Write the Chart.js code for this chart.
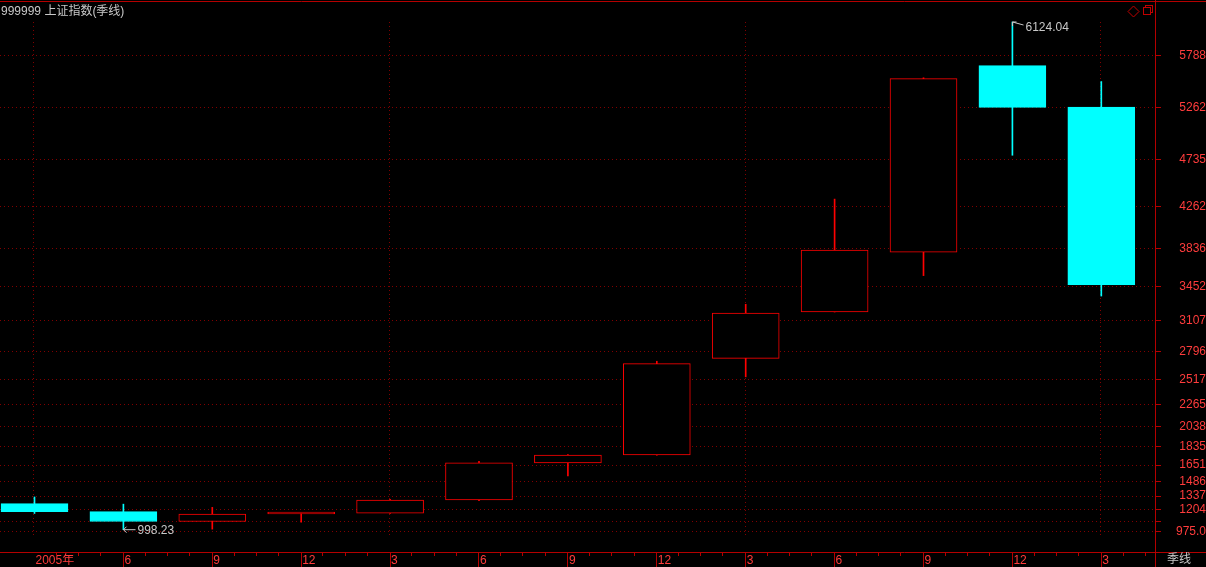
<!DOCTYPE html>
<html>
<head>
<meta charset="utf-8">
<title>999999 上证指数(季线)</title>
<script src="https://cdn.jsdelivr.net/npm/chart.js@4/dist/chart.umd.min.js"></script>
<style>
  html, body { margin: 0; padding: 0; background: #000; }
  #wrap { position: relative; width: 1206px; height: 567px; }
</style>
</head>
<body>
<div id="wrap"><canvas id="kline"></canvas></div>
<script>
// quarterly candles of the Shanghai composite, 2005Q1 .. 2008Q1
const quarters = ['2005Q1', '2005Q2', '2005Q3', '2005Q4', '2006Q1', '2006Q2', '2006Q3',
                  '2006Q4', '2007Q1', '2007Q2', '2007Q3', '2007Q4', '2008Q1'];
const xLabels  = ['2005年', '6', '9', '12', '3', '6', '9', '12', '3', '6', '9', '12', '3'];
const yearStarts = [0, 4, 8, 12];   // dotted separators where a new year begins

const opens  = [1260.78, 1181.24, 1080.94, 1157.00, 1163.88, 1298.30, 1672.21,
                1752.42, 2728.19, 3196.00, 3800.00, 5683.31, 5265.00];
const highs  = [1328.53, 1256.00, 1223.57, 1166.00, 1306.00, 1688.00, 1757.80,
                2698.90, 3274.00, 4335.96, 5561.00, 6124.04, 5522.78];
const lows   = [1162.00, 998.23, 1004.08, 1074.01, 1161.91, 1291.00, 1541.00,
                1750.00, 2541.53, 3196.00, 3563.54, 4778.73, 3357.23];
const closes = [1181.24, 1080.94, 1155.61, 1161.06, 1298.30, 1672.21, 1752.42,
                2675.47, 3183.98, 3820.70, 5552.30, 5261.56, 3472.71];

// right axis ticks (the one at 1084 has no label, it would collide)
const yTicks      = [975, 1084, 1204, 1337, 1486, 1651, 1835, 2038, 2265, 2517,
                     2796, 3107, 3452, 3836, 4262, 4735, 5262, 5788];
const yTickLabels = ['975.0', '', '1204', '1337', '1486', '1651', '1835', '2038', '2265', '2517',
                     '2796', '3107', '3452', '3836', '4262', '4735', '5262', '5788'];

const Y_MIN = 773, Y_MAX = 6326;
const X_MIN = -0.388, X_MAX = 12.604;

const UP = '#ff0000';
const DOWN = '#00ffff';
const AXIS = '#b40000';
const GRID = '#800000';
const TICK_TEXT = '#ff3c3c';
const GREY = '#c8c8c8';
const NUM_FONT = '12px "Liberation Sans", Arial, sans-serif';
const CJK_FONT = '12px "Liberation Sans", "Noto Sans CJK SC", sans-serif';

const isUp = i => closes[i] >= opens[i];

function line(ctx, x1, y1, x2, y2) {
    ctx.beginPath();
    ctx.moveTo(x1, y1);
    ctx.lineTo(x2, y2);
    ctx.stroke();
}

const decor = {
    id: 'decor',
    beforeDraw(chart) {
        const ctx = chart.ctx;
        ctx.save();
        ctx.fillStyle = '#000';
        ctx.fillRect(0, 0, chart.width, chart.height);
        ctx.restore();
    },
    beforeDatasetsDraw(chart) {
        const {ctx, chartArea: a, scales: {x}} = chart;
        ctx.save();
        ctx.strokeStyle = GRID;
        ctx.lineWidth = 1;
        ctx.setLineDash([1, 3]);
        yearStarts.forEach(i => {
            const px = Math.round(x.getPixelForValue(i)) - 0.5;
            line(ctx, px, a.top + 20, px, a.bottom - 14);
        });
        ctx.restore();
    },
    afterDraw(chart) {
        const {ctx, chartArea: a, scales: {x, y}, width, height} = chart;
        ctx.save();
        ctx.strokeStyle = AXIS;
        ctx.lineWidth = 1;
        // frame: top rule, right axis, bottom axis
        line(ctx, 0, 1.5, width, 1.5);
        line(ctx, a.right + 0.5, 0, a.right + 0.5, height);
        line(ctx, 0, a.bottom + 0.5, width, a.bottom + 0.5);
        // minor ticks under the time axis
        for (let v = 0; v <= X_MAX; v += 0.25) {
            if (v % 1 === 0) continue;
            const px = Math.round(x.getPixelForValue(v)) - 0.5;
            line(ctx, px, a.bottom, px, a.bottom + 4);
        }
        // small window icons, top right
        ctx.strokeStyle = '#c00000';
        ctx.beginPath();
        ctx.moveTo(1133.5, 6); ctx.lineTo(1139, 11.5); ctx.lineTo(1133.5, 17); ctx.lineTo(1128, 11.5);
        ctx.closePath();
        ctx.stroke();
        ctx.strokeRect(1145.5, 5.5, 7, 7);
        ctx.fillStyle = '#000';
        ctx.fillRect(1143.5, 7.5, 7, 7);
        ctx.strokeRect(1143.5, 7.5, 7, 7);

        // title and period name
        ctx.fillStyle = GREY;
        ctx.font = CJK_FONT;
        ctx.textBaseline = 'middle';
        ctx.textAlign = 'left';
        ctx.fillText('999999 上证指数(季线)', 1, 12);
        ctx.fillText('季线', a.right + 12, a.bottom + 8);

        // highest high / lowest low markers
        let hi = 0, lo = 0;
        highs.forEach((v, i) => { if (v > highs[hi]) hi = i; });
        lows.forEach((v, i) => { if (v < lows[lo]) lo = i; });
        ctx.strokeStyle = GREY;
        ctx.font = NUM_FONT;

        let hx = Math.round(x.getPixelForValue(hi)) + 0.5, hy = y.getPixelForValue(highs[hi]);
        line(ctx, hx, hy, hx + 11, hy + 3);
        line(ctx, hx, hy, hx + 4, hy);
        line(ctx, hx, hy, hx, hy + 4);
        ctx.fillText(highs[hi].toFixed(2), hx + 13, hy + 6);

        let lx = Math.round(x.getPixelForValue(lo)) + 0.5, ly = y.getPixelForValue(lows[lo]);
        line(ctx, lx, ly, lx + 12, ly);
        line(ctx, lx, ly, lx + 3, ly - 3);
        line(ctx, lx, ly, lx + 3, ly + 3);
        ctx.fillText(lows[lo].toFixed(2), lx + 14, ly + 1);
        ctx.restore();
    }
};

new Chart(document.getElementById('kline'), {
    type: 'bar',
    data: {
        datasets: [{
            label: 'wick',
            data: quarters.map((q, i) => ({x: i, y: [lows[i], highs[i]]})),
            backgroundColor: quarters.map((q, i) => isUp(i) ? UP : DOWN),
            borderWidth: 0,
            barThickness: 1,
            grouped: false,
            order: 2
        }, {
            label: 'body',
            data: quarters.map((q, i) => ({x: i, y: [opens[i], closes[i]]})),
            backgroundColor: quarters.map((q, i) => isUp(i) ? '#000000' : DOWN),
            borderColor: quarters.map((q, i) => isUp(i) ? UP : DOWN),
            borderWidth: 1,
            borderSkipped: false,
            minBarLength: 2,
            barThickness: 67,
            grouped: false,
            order: 1
        }]
    },
    options: {
        responsive: true,
        maintainAspectRatio: false,
        animation: false,
        layout: { padding: { top: 2, left: 0, right: 0, bottom: 0 } },
        plugins: {
            legend: { display: false },
            tooltip: { enabled: false }
        },
        scales: {
            x: {
                type: 'linear',
                min: X_MIN,
                max: X_MAX,
                offset: false,
                afterBuildTicks: s => { s.ticks = quarters.map((q, i) => ({value: i})); },
                afterFit: s => {
                    s.height = 15;
                    s.paddingLeft = 0; s.paddingRight = 0;
                },
                grid: {
                    offset: false,
                    drawOnChartArea: false,
                    tickLength: 15,
                    tickColor: c => c.index === 0 ? 'rgba(0,0,0,0)' : AXIS
                },
                border: { display: false },
                ticks: {
                    autoSkip: false,
                    maxRotation: 0,
                    align: 'start',
                    labelOffset: 1,
                    padding: -14,
                    color: TICK_TEXT,
                    font: { family: '"Liberation Sans", "Noto Sans CJK SC", sans-serif', size: 12 },
                    callback: (v, i) => xLabels[i]
                }
            },
            y: {
                type: 'linear',
                position: 'right',
                min: Y_MIN,
                max: Y_MAX,
                afterBuildTicks: s => { s.ticks = yTicks.map(v => ({value: v})); },
                afterFit: s => {
                    s.width = 51;
                    s.paddingTop = 0; s.paddingBottom = 0;
                },
                grid: {
                    color: GRID,
                    tickColor: AXIS,
                    tickLength: 6,
                    tickBorderDash: []
                },
                border: { display: false, dash: [1, 3] },
                ticks: {
                    autoSkip: false,
                    crossAlign: 'far',
                    padding: 10,
                    color: TICK_TEXT,
                    font: { family: '"Liberation Sans", Arial, sans-serif', size: 12 },
                    callback: (v, i) => yTickLabels[i]
                }
            }
        }
    },
    plugins: [decor]
});
</script>
</body>
</html>
